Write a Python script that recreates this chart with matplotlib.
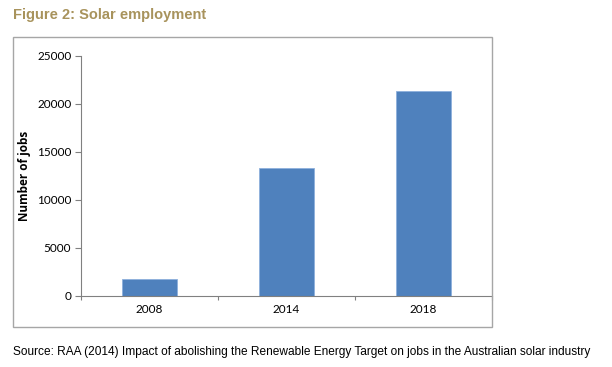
import matplotlib.pyplot as plt
import numpy as np
from matplotlib.patches import Rectangle

years = ['2008', '2014', '2018']
jobs = [1800, 13300, 21300]
yticks = [0, 5000, 10000, 15000, 20000, 25000]

fig = plt.figure(figsize=(6.12, 3.67), dpi=100)

# outer chart frame
fig.patches.append(Rectangle((0.0212, 0.109), 0.7827, 0.790, transform=fig.transFigure,
                             fill=False, edgecolor='#a6a6a6', linewidth=1.0))

ax = fig.add_axes([0.1324, 0.1935, 0.6716, 0.654])
x = np.arange(len(years)) + 0.5
ax.bar(x, jobs, width=0.4, color='#4f81bd', edgecolor='#8eb0dc', linewidth=0.6)

ax.set_xlim(0, 3)
ax.set_ylim(0, 25000)
ax.set_yticks(yticks)
ax.set_yticklabels([str(v) for v in yticks], fontsize=8.5, family='Lato')
ax.set_xticks([0, 1, 2, 3])
ax.set_xticklabels([])
ax.set_xticks(x, minor=True)
ax.set_xticklabels(years, minor=True, fontsize=8.5, family='Lato')
ax.tick_params(axis='x', which='minor', length=0, pad=6)
ax.tick_params(axis='x', which='major', length=3, color='#808080')
ax.tick_params(axis='y', length=4, color='#808080', pad=3)

for s in ['top', 'right']:
    ax.spines[s].set_visible(False)
for s in ['left', 'bottom']:
    ax.spines[s].set_color('#808080')
    ax.spines[s].set_linewidth(0.8)

ax.set_ylabel('Number of jobs', fontsize=8.5, fontweight='bold', family='Open Sans', labelpad=4)

fig.text(0.021, 0.958, 'Figure 2: Solar employment', fontsize=10.5, fontweight='bold',
         color='#a8935c', family='Liberation Sans', va='center')
fig.text(0.021, 0.04, 'Source: RAA (2014) Impact of abolishing the Renewable Energy Target on jobs in the Australian solar industry',
         fontsize=8.6, color='black', family='Liberation Sans', va='center')

fig.savefig('out.png', dpi=100)
